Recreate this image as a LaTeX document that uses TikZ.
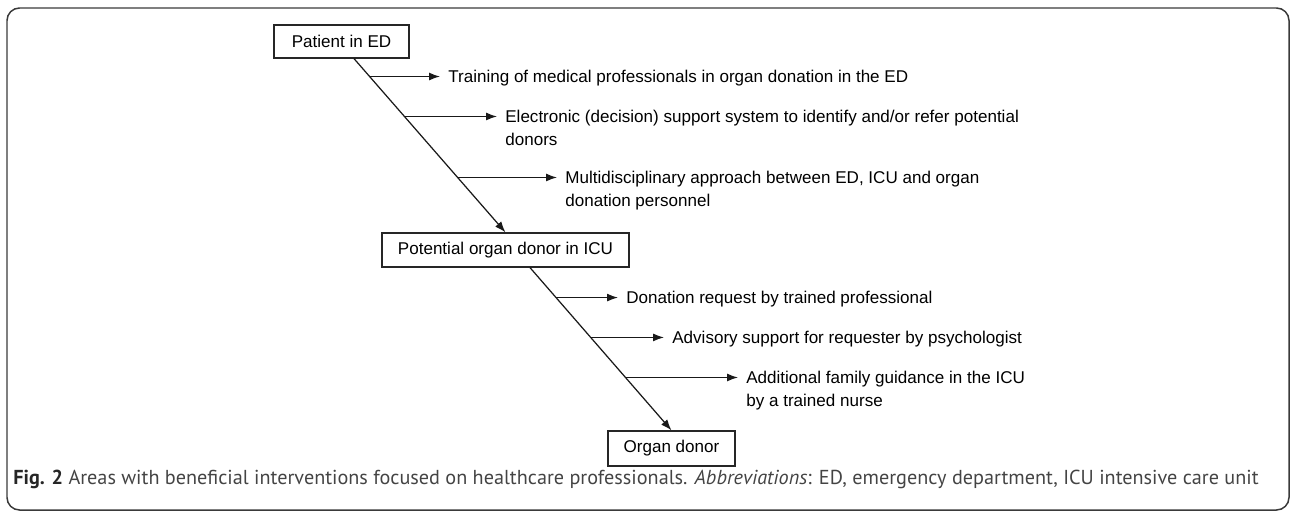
\documentclass[tikz,border=0pt]{standalone}
\usepackage{fontspec}
\setmainfont{Liberation Sans}
\newfontfamily\capfont{PT Sans}
\usetikzlibrary{arrows.meta}
\definecolor{framegray}{HTML}{3A3A3A}
\definecolor{capgray}{HTML}{444444}
\tikzset{
    box/.style={draw=black!85, line width=0.7pt, inner sep=0pt, font=\fontsize{9.7}{13.1}\selectfont},
    flow/.style={draw=black!90, line width=0.7pt, -{Latex[length=0.22cm,width=0.16cm]}},
    item/.style={anchor=base west, align=left, inner xsep=0.16cm, inner ysep=0pt, font=\fontsize{9.7}{13.1}\selectfont},
    caption/.style={anchor=base west, inner sep=0pt, text=capgray, font=\capfont\fontsize{11.5}{14}\selectfont},
}
\begin{document}
\begin{tikzpicture}
                \useasboundingbox (0,0) rectangle (25.8,-10.22);
                \draw[framegray, line width=0.85pt, rounded corners=0.25cm] (0.14,-0.16) rectangle (25.78,-10.2);

                % the three stages
                \node[box, minimum width=2.70cm, minimum height=0.66cm] (ed) at (6.83,-0.83) {Patient in ED};
                \node[box, minimum width=4.94cm, minimum height=0.68cm] (icu) at (10.11,-5.00) {Potential organ donor in ICU};
                \node[box, minimum width=2.54cm, minimum height=0.70cm] (donor) at (13.43,-8.97) {Organ donor};

                \draw[flow] ([xshift=0.25cm]ed.south) -- coordinate[pos=0.103] (b1) coordinate[pos=0.333] (b2) coordinate[pos=0.684] (b3) (icu.north);
                \draw[flow] ([xshift=0.49cm]icu.south) -- coordinate[pos=0.184] (c1) coordinate[pos=0.429] (c2) coordinate[pos=0.675] (c3) (donor.north);

                % interventions ED -> ICU (base = last line)
                \node[item] (t1) at (8.80,-1.65) {Training of medical professionals in organ donation in the ED};
                \node[item] (t2) at (9.94,-2.91) {Electronic (decision) support system to identify and/or refer potential\\donors};
                \node[item] (t3) at (11.14,-4.13) {Multidisciplinary approach between ED, ICU and organ\\donation personnel};
                \draw[flow] (b1) -- (b1 -| t1.west);
                \draw[flow] (b2) -- (b2 -| t2.west);
                \draw[flow] (b3) -- (b3 -| t3.west);

                % interventions ICU -> donor
                \node[item] (t4) at (12.36,-6.07) {Donation request by trained professional};
                \node[item] (t5) at (13.28,-6.87) {Advisory support for requester by psychologist};
                \node[item] (t6) at (14.76,-8.13) {Additional family guidance in the ICU\\by a trained nurse};
                \draw[flow] (c1) -- (c1 -| t4.west);
                \draw[flow] (c2) -- (c2 -| t5.west);
                \draw[flow] (c3) -- (c3 -| t6.west);

                \node[caption] (cap) at (0.26,-9.68) {\textbf{\color{black!85}Fig. 2} Areas with beneficial interventions focused on healthcare professionals. \textit{Abbreviations}: ED, emergency department, ICU intensive care unit};
            \end{tikzpicture}
\end{document}
